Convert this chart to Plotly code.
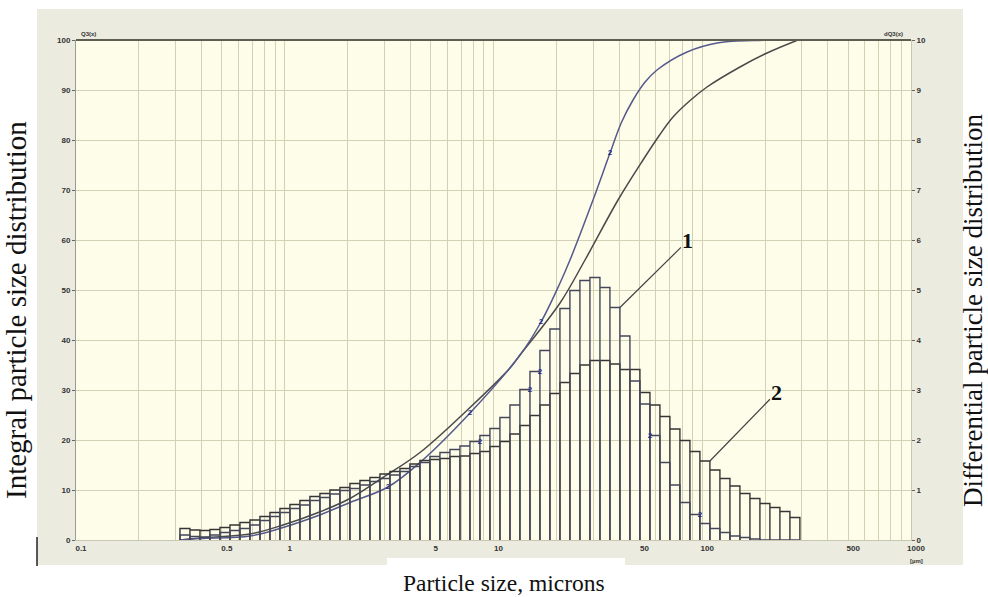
import math
import plotly.graph_objects as go

# ---------------- data ----------------
# histogram bin edges, micrometres (62 log-spaced channels)
bin_edges_um = [0.3148, 0.3514, 0.3925, 0.4382, 0.4893, 0.5464, 0.6101, 0.6813, 0.7607, 0.8494,
                0.9484, 1.059, 1.182, 1.320, 1.474, 1.646, 1.838, 2.052, 2.292, 2.559,
                2.858, 3.191, 3.563, 3.978, 4.442, 4.960, 5.539, 6.185, 6.906, 7.711,
                8.610, 9.614, 10.735, 11.99, 13.38, 14.95, 16.69, 18.63, 20.81, 23.23,
                25.94, 28.97, 32.35, 36.12, 40.33, 45.03, 50.28, 56.15, 62.69, 70.00,
                78.16, 87.28, 97.45, 108.8, 121.5, 135.7, 151.5, 169.2, 188.9, 210.9,
                235.5, 263.0, 293.6]

# differential distribution dQ3 (right axis), sample 1 (narrow) and sample 2 (broad)
dq3_sample1 = [0.10, 0.07, 0.06, 0.10, 0.15, 0.19, 0.23, 0.30, 0.39, 0.47,
               0.55, 0.63, 0.70, 0.79, 0.85, 0.92, 0.99, 1.03, 1.10, 1.17,
               1.23, 1.30, 1.37, 1.47, 1.55, 1.67, 1.75, 1.81, 1.88, 1.97,
               2.09, 2.23, 2.45, 2.70, 3.01, 3.37, 3.79, 4.22, 4.63, 4.99,
               5.19, 5.25, 5.05, 4.65, 4.08, 3.18, 2.72, 2.09, 1.55, 1.10,
               0.75, 0.51, 0.33, 0.23, 0.15, 0.08, 0.05, 0.02, 0.0, 0.0,
               0.0, 0.0]
dq3_sample2 = [0.23, 0.20, 0.19, 0.21, 0.25, 0.30, 0.35, 0.40, 0.47, 0.55,
               0.63, 0.71, 0.79, 0.87, 0.93, 1.00, 1.05, 1.13, 1.19, 1.25,
               1.32, 1.37, 1.43, 1.52, 1.59, 1.61, 1.63, 1.67, 1.68, 1.73,
               1.77, 1.87, 1.97, 2.12, 2.29, 2.49, 2.70, 2.93, 3.15, 3.33,
               3.50, 3.59, 3.59, 3.52, 3.41, 3.41, 2.95, 2.70, 2.47, 2.22,
               1.99, 1.77, 1.58, 1.40, 1.23, 1.08, 0.93, 0.83, 0.73, 0.65,
               0.57, 0.45]

# integral distribution Q3 (left axis)
q3_sample1_size = [0.315, 0.393, 0.682, 0.981, 1.427, 2.054, 3.123, 4.445, 7.717, 13.40,
                   16.89, 20.83, 23.25, 29.97, 36.15, 41.0, 46.60, 53.0, 60.71, 84.54,
                   117.7, 175.1, 287.5]
q3_sample1_pct = [0, 0.3, 0.8, 2.5, 4.8, 7.5, 10.6, 15.5, 25.4, 37,
                  43.6, 51.4, 56, 68, 77.4, 83.5, 88, 91.5, 94, 97.6,
                  99.4, 99.9, 100]
q3_sample2_size = [0.315, 0.393, 0.682, 0.981, 1.427, 2.054, 2.956, 4.445, 7.717, 12.00,
                   13.40, 20.83, 27.44, 39.49, 52.03, 62.0, 72.43, 88.0, 105.4, 151.6,
                   204.3, 287.5]
q3_sample2_pct = [0, 0.4, 1.2, 3.0, 5.4, 8.3, 12.5, 17.5, 26.5, 34.4,
                  37, 47.4, 56, 68, 76, 80.8, 84.6, 88.0, 90.6, 94.6,
                  97.4, 100]

# axis ticks
x_grid_vals = [0.1, 0.2, 0.3, 0.4, 0.5, 0.6, 0.7, 0.8, 0.9,
               1, 2, 3, 4, 5, 6, 7, 8, 9,
               10, 20, 30, 40, 50, 60, 70, 80, 90,
               100, 200, 300, 400, 500, 600, 700, 800, 900, 1000]
x_labelled = {0.1: "0.1", 0.5: "0.5", 1: "1", 5: "5", 10: "10", 50: "50",
              100: "100", 500: "500", 1000: "1000"}
y_left_ticks = [0, 10, 20, 30, 40, 50, 60, 70, 80, 90, 100]
y_right_ticks = [0, 1, 2, 3, 4, 5, 6, 7, 8, 9, 10]

# small "2" channel markers of sample 1 (bin indices / curve point indices)
marker_bins_right_edge = [29, 34, 35, 51]
marker_bins_left_edge = [47]
marker_curve_idx = [6, 8, 10, 14]

# ---------------- helpers ----------------
def outline(edges, heights):
    xs, ys = [edges[0]], [0]
    for k, h in enumerate(heights):
        xs += [edges[k], edges[k + 1], edges[k + 1]]
        ys += [h, h, 0]
    return xs, ys

fig = go.Figure()

x2, y2 = outline(bin_edges_um, dq3_sample2)
fig.add_trace(go.Scatter(x=x2, y=y2, mode="lines", yaxis="y2",
                         line=dict(color="#353535", width=1.4), hoverinfo="skip",
                         showlegend=False))
x1, y1 = outline(bin_edges_um, dq3_sample1)
fig.add_trace(go.Scatter(x=x1, y=y1, mode="lines", yaxis="y2",
                         line=dict(color="#44475a", width=1.4), hoverinfo="skip",
                         showlegend=False))

fig.add_trace(go.Scatter(x=q3_sample2_size, y=q3_sample2_pct, mode="lines",
                         line=dict(color="#4a4a4a", width=1.5, shape="spline", smoothing=1.0),
                         showlegend=False))
fig.add_trace(go.Scatter(x=q3_sample1_size, y=q3_sample1_pct, mode="lines",
                         line=dict(color="#55598c", width=1.5, shape="spline", smoothing=1.0),
                         showlegend=False))

# little "2" markers
mx = [bin_edges_um[k + 1] for k in marker_bins_right_edge] + [bin_edges_um[k] for k in marker_bins_left_edge]
my = [dq3_sample1[k] for k in marker_bins_right_edge] + [dq3_sample1[k] for k in marker_bins_left_edge]
fig.add_trace(go.Scatter(x=mx, y=my, mode="text", text=["2"] * len(mx), yaxis="y2",
                         textfont=dict(size=8, color="#23288a", family="Liberation Sans", weight="bold"),
                         showlegend=False, hoverinfo="skip"))
fig.add_trace(go.Scatter(x=[q3_sample1_size[i] for i in marker_curve_idx],
                         y=[q3_sample1_pct[i] for i in marker_curve_idx],
                         mode="text", text=["2"] * len(marker_curve_idx),
                         textfont=dict(size=8, color="#23288a", family="Liberation Sans", weight="bold"),
                         showlegend=False, hoverinfo="skip"))

tickfont = dict(family="Liberation Sans", size=8, color="#333333", weight="bold")
grid_col = "#d3d0b6"

fig.update_layout(
    width=988, height=597,
    margin=dict(l=76, r=77, t=40, b=57, pad=0),
    paper_bgcolor="white",
    plot_bgcolor="rgba(0,0,0,0)",
    xaxis=dict(type="log", range=[-1, 3], tickmode="array", tickvals=x_grid_vals,
               ticktext=[x_labelled.get(v, "") for v in x_grid_vals],
               showgrid=True, gridcolor=grid_col, gridwidth=1,
               tickfont=tickfont, ticks="", ticklabelshift=5,
               showline=True, linecolor="#c9c7b4", linewidth=1, zeroline=False),
    yaxis=dict(range=[0, 100], tickmode="array", tickvals=y_left_ticks,
               showgrid=True, gridcolor=grid_col, gridwidth=1,
               tickfont=tickfont, ticks="outside", ticklen=3, tickcolor="#666",
               showline=True, linecolor="#9a9a90", linewidth=1, zeroline=False),
    yaxis2=dict(range=[0, 10], overlaying="y", side="right", tickmode="array",
                tickvals=y_right_ticks, showgrid=False, tickfont=tickfont,
                ticks="outside", ticklen=3, tickcolor="#666",
                showline=True, linecolor="#c9c7b4", linewidth=1, zeroline=False),
    shapes=[
        dict(type="rect", xref="paper", yref="paper", x0=-0.0467, x1=1.0623, y0=-0.05, y1=1.062,
             fillcolor="#ecebe0", line=dict(width=0), layer="below"),
        dict(type="rect", xref="paper", yref="paper", x0=0, x1=1, y0=0, y1=1,
             fillcolor="#fefdea", line=dict(width=0), layer="below"),
        dict(type="rect", xref="paper", yref="paper", x0=0.3725, x1=0.6575, y0=-0.065, y1=-0.036,
             fillcolor="white", line=dict(width=0), layer="below"),
        dict(type="line", xref="paper", yref="paper", x0=0, x1=1, y0=1, y1=1,
             line=dict(color="#5d5d50", width=2)),
        dict(type="line", xref="paper", yref="paper", x0=-0.0467, x1=-0.0467, y0=0.006, y1=-0.052,
             line=dict(color="#222", width=1.5)),
    ],
    annotations=[
        dict(text="Integral particle size distribution", xref="paper", yref="paper",
             x=-0.0719, y=0.46, xanchor="center", yanchor="middle", textangle=-90,
             showarrow=False, font=dict(family="Liberation Serif", size=29, color="#111")),
        dict(text="Differential particle size distribution", xref="paper", yref="paper",
             x=1.0743, y=0.46, xanchor="center", yanchor="middle", textangle=-90,
             showarrow=False, font=dict(family="Liberation Serif", size=27, color="#111")),
        dict(text="Particle size, microns", xref="paper", yref="paper",
             x=0.5126, y=-0.086, xanchor="center", yanchor="middle", showarrow=False,
             font=dict(family="Liberation Serif", size=23.5, color="#111")),
        dict(text="Q3(x)", xref="paper", yref="paper", x=0.004, y=1.003, xanchor="left",
             yanchor="bottom", showarrow=False,
             font=dict(family="Liberation Sans", size=6, color="#333", weight="bold")),
        dict(text="dQ3(x)", xref="paper", yref="paper", x=0.993, y=1.003, xanchor="right",
             yanchor="bottom", showarrow=False,
             font=dict(family="Liberation Sans", size=6, color="#333", weight="bold")),
        dict(text="[µm]", xref="paper", yref="paper", x=1.007, y=-0.042, showarrow=False,
             xanchor="center", yanchor="middle",
             font=dict(family="Liberation Sans", size=6, color="#333", weight="bold")),
        dict(text="<b>1</b>", x=math.log10(bin_edges_um[44]),
             y=dq3_sample1[43], xref="x", yref="y2", showarrow=True, arrowhead=0,
             arrowwidth=1.2, arrowcolor="#444", ax=68, ay=-67,
             font=dict(family="Liberation Serif", size=22, color="#111")),
        dict(text="<b>2</b>", x=math.log10(bin_edges_um[53]),
             y=dq3_sample2[52], xref="x", yref="y2", showarrow=True, arrowhead=0,
             arrowwidth=1.2, arrowcolor="#444", ax=67, ay=-69,
             font=dict(family="Liberation Serif", size=22, color="#111")),
    ],
)

fig.write_html("out.html")
